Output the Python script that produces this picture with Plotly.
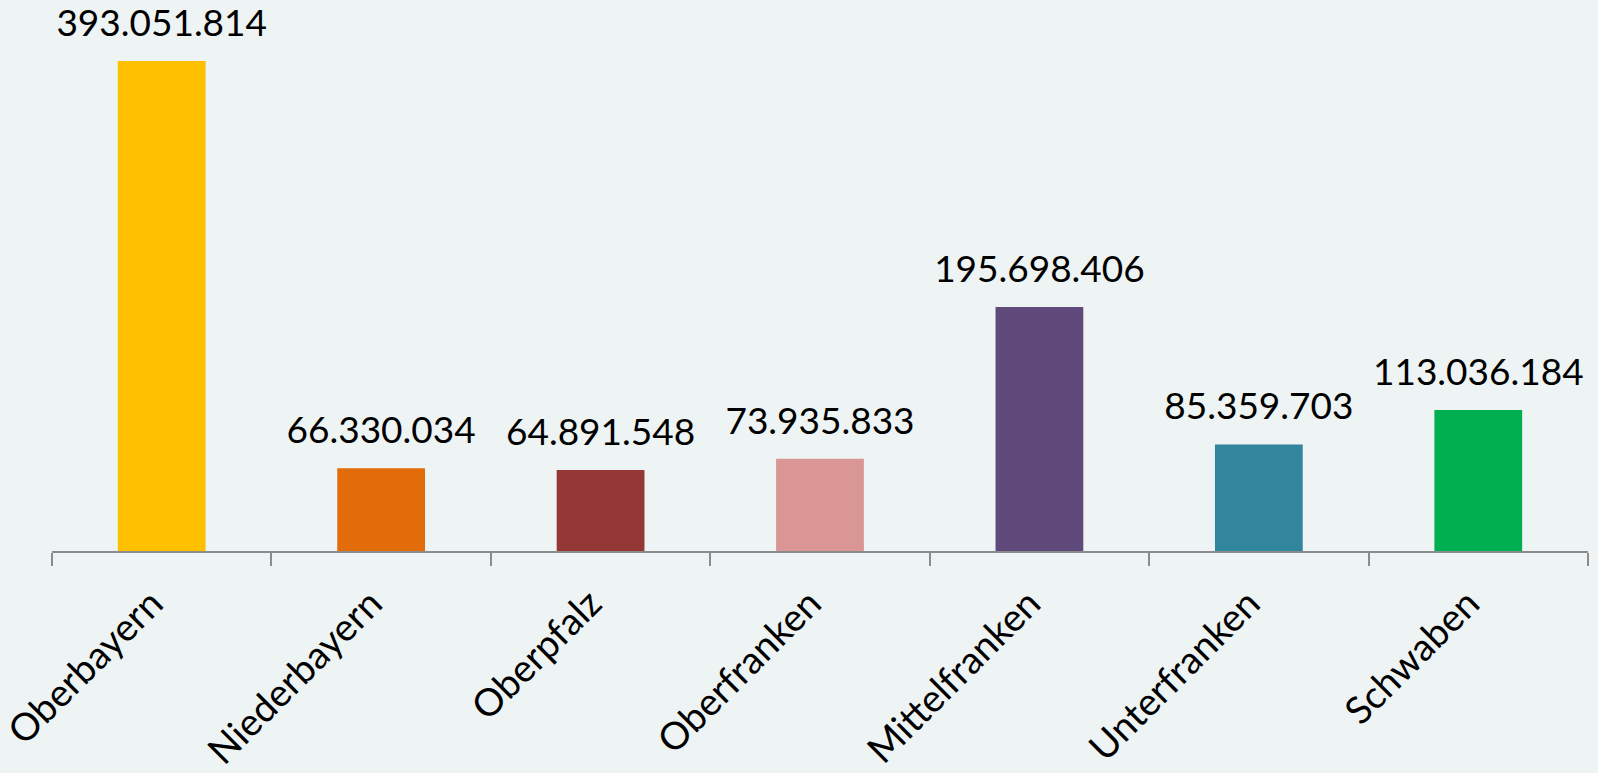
import plotly.graph_objects as go

categories = ["Oberbayern", "Niederbayern", "Oberpfalz", "Oberfranken",
              "Mittelfranken", "Unterfranken", "Schwaben"]
values = [393051814, 66330034, 64891548, 73935833, 195698406, 85359703, 113036184]
colors = ["#FFC000", "#E36C0A", "#953735", "#D99694", "#604A7B", "#31859C", "#00B050"]

fig = go.Figure()
fig.add_trace(go.Bar(
    x=categories,
    y=values,
    marker=dict(color=colors, line=dict(width=0)),
    hoverinfo="x+y",
))
fig.add_trace(go.Scatter(
    x=categories,
    y=values,
    mode="markers+text",
    marker=dict(size=24, color="rgba(0,0,0,0)"),
    texttemplate="%{y:,.0f}",
    textposition="top center",
    textfont=dict(family="Lato", size=37, color="#000000"),
    cliponaxis=False,
    hoverinfo="skip",
))

fig.update_layout(
    width=1598, height=773,
    separators=",.",
    paper_bgcolor="#EEF3F3",
    plot_bgcolor="#EEF3F3",
    margin=dict(l=52, r=10, t=10, b=222, autoexpand=False),
    bargap=0.6,
    showlegend=False,
    font=dict(family="Lato", color="#000000"),
)
fig.update_xaxes(
    type="category",
    automargin=False,
    tickangle=-45,
    tickfont=dict(family="Lato", size=38, color="#000000"),
    showline=True, linecolor="#8C8C8C", linewidth=2,
    ticks="outside", tickson="boundaries", ticklen=13, tickwidth=2, tickcolor="#8C8C8C",
    ticklabelstandoff=13, ticklabelshift=-10,
    showgrid=False,
)
fig.update_yaxes(
    range=[0, 434e6],
    automargin=False,
    visible=False,
    showgrid=False,
    zeroline=False,
)

fig.write_html(
    "out.html",
    config={"displayModeBar": False},
    post_script="document.body.style.margin='0';document.body.style.overflow='hidden';document.body.style.background='#EEF3F3';",
)
